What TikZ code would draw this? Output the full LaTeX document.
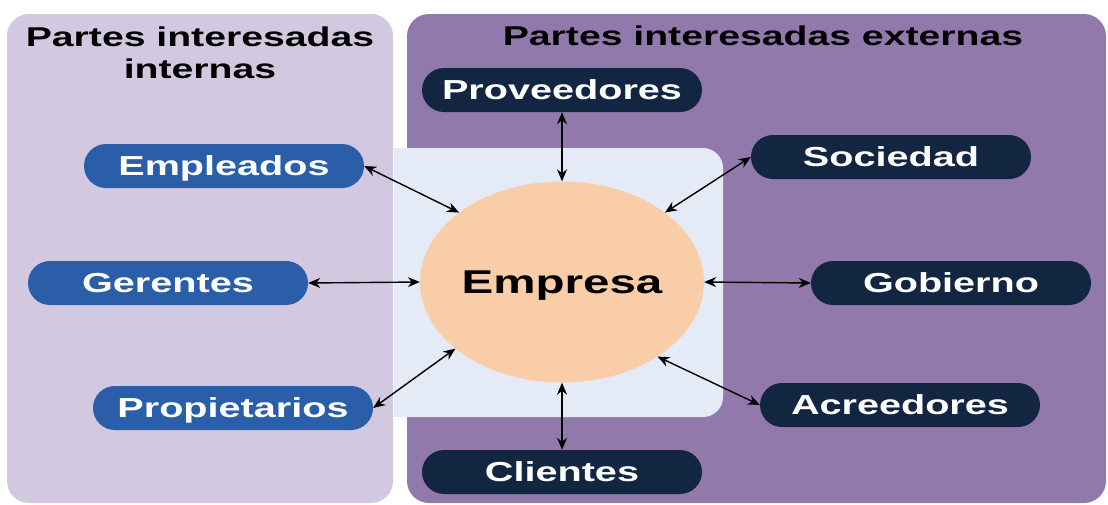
\documentclass[tikz,border=0pt]{standalone}
\usepackage{fontspec}
\setmainfont{Liberation Sans}[FakeStretch=1.44]
\usetikzlibrary{shapes.geometric,arrows.meta}
\definecolor{lav}{HTML}{D2C8DF}
\definecolor{purp}{HTML}{917AAB}
\definecolor{pale}{HTML}{E4EAF6}
\definecolor{peach}{HTML}{F8CDA8}
\definecolor{blu}{HTML}{2A5EA8}
\definecolor{navy}{HTML}{132641}
\begin{document}
\begin{tikzpicture}[x=1pt,y=-1pt,
  pill/.style={minimum width=280pt, minimum height=44pt, rounded corners=22pt, text=white,
    font=\bfseries\fontsize{27.5}{30}\selectfont, inner sep=0pt, text height=19.6pt, text depth=0pt},
  intern/.style={pill, fill=blu},
  extern/.style={pill, fill=navy},
  link/.style={{Stealth[length=12pt,width=10pt]}-{Stealth[length=12pt,width=10pt]}, line width=1.4pt, black},
  paneltitle/.style={font=\bfseries\fontsize{27.2}{32}\selectfont, align=center, text=black}]
\useasboundingbox (0,0) rectangle (1108,504);
\fill[white] (0,0) rectangle (1108,504);
% panels
\fill[lav, rounded corners=22pt] (7,14) rectangle (393,503);
\fill[purp, rounded corners=22pt] (407,14) rectangle (1106,503);
\fill[pale, rounded corners=20pt] (394,148) rectangle (723,417);
\fill[pale] (394,148) rectangle (500,417);
% titles
\node[paneltitle] (ti) at (200,53) {Partes interesadas\\internas};
\node[paneltitle] (te) at (763,36) {Partes interesadas externas};
% center
\node[ellipse, fill=peach, minimum width=280pt, minimum height=201pt, inner sep=0pt,
  font=\bfseries\fontsize{33}{36}\selectfont, text height=23.6pt, text depth=0pt] (E) at (562,282) {Empresa};
% internal
\node[intern] (emp) at (224,166) {Empleados};
\node[intern] (ger) at (168,283) {Gerentes};
\node[intern] (pro) at (233,408) {Propietarios};
% external
\node[extern] (prov) at (562,90) {Proveedores};
\node[extern] (soc) at (891,157) {Sociedad};
\node[extern] (gob) at (951,283) {Gobierno};
\node[extern] (acr) at (900,405) {Acreedores};
\node[extern] (cli) at (562,472) {Clientes};
% links
\draw[link] (emp.east) -- (E.146);
\draw[link] (ger.east) -- (E.west);
\draw[link] (pro.east) -- (E.212);
\draw[link] (prov.south) -- (E.north);
\draw[link] (soc.west) -- (E.34);
\draw[link] (gob.west) -- (E.east);
\draw[link] (acr.west) -- (E.322);
\draw[link] (cli.north) -- (E.south);
\end{tikzpicture}
\end{document}
